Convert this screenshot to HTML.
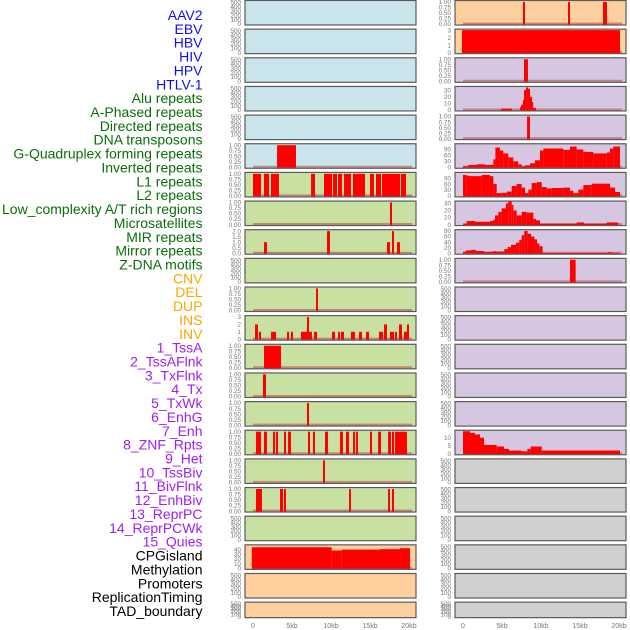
<!DOCTYPE html>
<html><head><meta charset="utf-8">
<style>
html,body{margin:0;padding:0;background:#fff;}
svg{display:block;font-family:"Liberation Sans",sans-serif;}
</style></head>
<body>
<svg id="chart" width="630" height="630" viewBox="0 0 630 630" xmlns="http://www.w3.org/2000/svg"></svg>
<script>
// ---- data ----
const rowLabels = ["AAV2","EBV","HBV","HIV","HPV","HTLV-1","Alu repeats","A-Phased repeats","Directed repeats","DNA transposons","G-Quadruplex forming repeats","Inverted repeats","L1 repeats","L2 repeats","Low_complexity A/T rich regions","Microsatellites","MIR repeats","Mirror repeats","Z-DNA motifs","CNV","DEL","DUP","INS","INV","1_TssA","2_TssAFlnk","3_TxFlnk","4_Tx","5_TxWk","6_EnhG","7_Enh","8_ZNF_Rpts","9_Het","10_TssBiv","11_BivFlnk","12_EnhBiv","13_ReprPC","14_ReprPCWk","15_Quies","CPGisland","Methylation","Promoters","ReplicationTiming","TAD_boundary"];
const labelGroups = [6,13,5,15,5];
const xTickLabels = ["0","5kb","10kb","15kb","20kb"];
const xTickValues = [0,5,10,15,20];
// tick types: "h" = 0..500, "u" = 0..1, "d2" = 0..2, "i3" = 0..3, "t40" etc
const leftTicks = ["h","h","h","h","h","u","u","u","d2","h","u","i3","u","u","u","u","u","u","h","c40","h","h"];
const rightTicks = ["u","i3","u","t30","u","t90","t90","t30","t80","u","h","h","h","h","h","t10","h","h","h","h","h","h"];
const leftMax = [520,520,520,520,520,1.02,1.02,1.02,2.04,520,1.02,3.05,1.02,1.02,1.02,1.02,1.02,1.02,520,48,520,520];
const rightMax = [1.02,3.05,1.02,34,1.02,114,114,32,81,1.02,520,520,520,520,520,14,520,520,520,520,520,520];
const leftBars = [
 [],[],[],[],[],
 [[3.08,5.51,1]],
 [[0,1.03,1],[1.41,2.05,1],[2.31,3.33,1],[7.44,7.95,1],[9.10,10.13,1],[10.26,10.77,1],[10.9,11.41,1],[11.67,12.56,1],[12.82,14.36,1],[15,15.51,1],[15.77,16.41,1],[16.54,18.85,1],[18.97,19.62,1]],
 [[17.56,17.82,1]],
 [[1.41,1.79,1],[9.49,9.87,2],[17.18,17.56,1],[17.82,18.08,2],[18.46,18.85,1]],
 [],
 [[8.08,8.33,1]],
 [[0.26,0.64,2],[0.77,1.03,1],[2.31,2.95,1],[4.36,4.62,1],[4.87,5.13,1],[6.15,6.92,1],[6.92,7.18,3],[7.18,7.56,1],[7.82,8.21,1],[10.13,10.51,1],[10.9,11.15,1],[11.28,11.67,1],[12.56,13.08,1],[13.59,13.97,1],[14.49,14.87,1],[16.15,16.67,1],[16.79,17.18,2],[17.56,18.08,1],[18.21,18.46,1],[18.72,19.1,2],[19.36,19.74,1],[19.74,20,2]],
 [[1.41,3.59,1]],
 [[1.28,1.67,1]],
 [[6.92,7.18,1]],
 [[0.38,1.03,1],[1.41,1.79,1],[2.56,2.82,1],[2.95,3.21,1],[3.97,4.23,1],[4.49,4.87,1],[7.05,7.31,1],[7.69,7.95,1],[9.23,9.62,1],[11.15,11.54,1],[11.92,12.31,1],[12.82,13.08,1],[13.21,13.46,1],[15,15.26,1],[16.03,16.41,1],[17.31,17.69,1],[17.82,18.08,1],[18.21,19.74,1]],
 [[8.97,9.23,1]],
 [[0.38,1.15,1],[3.46,3.85,1],[3.97,4.23,1],[12.31,12.56,1],[17.31,17.56,1],[17.82,18.08,1]],
 [],
 [[-0.15,10.09,45],[10.09,11.37,38],[11.37,16.28,40],[16.28,18.85,41],[18.85,20.13,43]],
 [],[]
];
const rightBars = [
 [[7.69,7.95,1],[13.46,13.72,1],[17.95,18.46,1]],
 [[-0.13,20.13,3.05]],
 [[7.82,8.33,1]],
 [[4.87,6.28,2],[7.31,7.44,4],[7.44,7.69,8],[7.69,7.82,15],[7.82,8.08,30],[8.08,8.33,34],[8.33,8.59,32],[8.59,8.85,20],[8.85,8.97,12],[8.97,9.36,3]],
 [[8.21,8.59,1]],
 [[0,0.68,5],[0.68,1.75,12],[1.75,2.82,15],[2.82,3.89,12],[3.89,4.15,40],[4.15,4.74,100],[4.74,5.17,85],[5.17,5.81,70],[5.81,6.45,50],[6.45,7.09,30],[7.09,7.52,15],[7.52,7.95,5],[7.95,8.59,10],[8.59,9.23,20],[9.23,9.87,35],[9.87,10.3,85],[10.3,12.86,95],[12.86,13.72,88],[13.72,14.57,105],[14.57,15.43,90],[15.43,16.71,78],[16.71,18.42,70],[18.42,18.85,75],[18.85,19.27,95],[19.27,20.13,105]],
 [[0,0.47,106],[0.47,0.9,102],[0.9,2.39,100],[2.39,3.46,106],[3.46,3.89,100],[3.89,4.32,60],[4.32,4.96,14],[4.96,5.6,16],[5.6,6.24,22],[6.24,6.88,50],[6.88,7.52,60],[7.52,7.95,42],[7.95,8.38,14],[8.38,8.8,32],[8.8,9.44,65],[9.44,10.09,70],[10.09,10.73,45],[10.73,11.37,38],[11.37,12.86,40],[12.86,13.72,42],[13.72,14.15,26],[14.15,14.79,14],[14.79,15.43,32],[15.43,16.5,55],[16.5,18.85,62],[18.85,19.49,42],[19.49,20.13,20]],
 [[0.04,0.47,1],[0.47,1.54,5],[1.54,3.46,4],[3.46,3.89,5],[3.89,4.1,7],[4.1,4.53,13],[4.53,4.96,18],[4.96,5.51,23],[5.51,5.81,30],[5.81,6.24,33],[6.24,6.45,28],[6.45,6.88,20],[6.88,7.52,13],[7.52,8.16,18],[8.16,9.02,17],[9.02,9.36,8],[9.36,9.87,6],[9.87,14.57,1],[14.57,15.51,3],[15.51,18.42,1],[18.42,19.91,3]],
 [[0,0.38,5],[0.38,1.03,10],[1.03,1.67,12],[1.67,2.74,8],[2.74,2.95,3],[2.95,3.81,5],[3.81,4.23,7],[4.23,5.3,6],[5.3,5.73,15],[5.73,6.15,22],[6.15,6.79,30],[6.79,7.22,38],[7.22,7.52,48],[7.52,7.86,65],[7.86,8.29,80],[8.29,8.72,70],[8.72,9.15,60],[9.15,9.49,50],[9.49,9.79,35],[9.79,10.21,25],[10.21,18.55,1],[18.55,19.19,3],[19.19,20.04,1]],
 [[13.72,14.44,1]],
 [],[],[],[],[],
 [[0,0.9,14],[0.9,1.54,13],[1.54,2.18,12],[2.18,2.69,10],[2.69,4.32,5.5],[4.32,5.26,4.5],[5.26,5.9,3],[5.9,7.52,2],[7.52,8.25,1.5],[8.25,8.68,3],[8.68,10.09,4.5],[10.09,20.13,2]],
 [],[],[],[],[],[]
];
const leftBg = ["#c9e4eb","#c9e4eb","#c9e4eb","#c9e4eb","#c9e4eb","#c9e4eb","#c8e1a2","#c8e1a2","#c8e1a2","#c8e1a2","#c8e1a2","#c8e1a2","#c8e1a2","#c8e1a2","#c8e1a2","#c8e1a2","#c8e1a2","#c8e1a2","#c8e1a2","#ffcf9e","#ffcf9e","#ffcf9e"];
const rightBg = ["#ffcf9e","#ffcf9e","#d7c6e2","#d7c6e2","#d7c6e2","#d7c6e2","#d7c6e2","#d7c6e2","#d7c6e2","#d7c6e2","#d7c6e2","#d7c6e2","#d7c6e2","#d7c6e2","#d7c6e2","#d7c6e2","#d0d0d0","#d0d0d0","#d0d0d0","#d0d0d0","#d0d0d0","#d0d0d0"];
const groupColors = ["#1010ee","#0a6e0a","#ffa500","#a020f0","#000000"];

// ---- rendering ----
const NS = "http://www.w3.org/2000/svg";
const svg = document.getElementById("chart");
function mk(tag, attrs, parent) {
  const e = document.createElementNS(NS, tag);
  for (const k in attrs) e.setAttribute(k, attrs[k]);
  (parent || svg).appendChild(e);
  return e;
}
const PX_PER_KB = 7.8;
const panels = [{x:245, w:171, x0:253, ticksRight:241, ticks:leftTicks, max:leftMax, bars:leftBars, bg:leftBg, side:"left"},
                {x:455, w:171, x0:463, ticksRight:451, ticks:rightTicks, max:rightMax, bars:rightBars, bg:rightBg, side:"right"}];
function tickSet(t) {
  if (t === "h") return [[0,"0"],[100,"100"],[200,"200"],[300,"300"],[400,"400"],[500,"500"]];
  if (t === "u") return [[0,"0.00"],[0.25,"0.25"],[0.5,"0.50"],[0.75,"0.75"],[1,"1.00"]];
  if (t === "d2") return [[0,"0.0"],[0.5,"0.5"],[1,"1.0"],[1.5,"1.5"],[2,"2.0"]];
  if (t === "i3") return [[0,"0"],[1,"1"],[2,"2"],[3,"3"]];
  if (t === "c40") return [[0,"0"],[10,"10"],[20,"20"],[30,"30"],[40,"40"]];
  if (t === "t30") return [[0,"0"],[10,"10"],[20,"20"],[30,"30"]];
  if (t === "t90") return [[0,"0"],[30,"30"],[60,"60"],[90,"90"]];
  if (t === "t80") return [[0,"0"],[20,"20"],[40,"40"],[60,"60"],[80,"80"]];
  if (t === "t10") return [[0,"0"],[5,"5"],[10,"10"]];
  return [];
}
for (let i = 0; i < 22; i++) {
  const top = i * 28.65 + 0.5;
  const h = i === 21 ? 15.5 : 24.5;
  const bottom = top + h;
  panels.forEach(p => {
    const g = mk("g", {});
    
    
    const bgr = mk("rect", {x:p.x, y:top, width:p.w, height:h, fill:p.bg[i]}, g);
    
    
    const max = p.max[i];
    const ys = v => bottom - 1 - (v / max) * (h - 2);
    const xs = kb => p.x0 + kb * PX_PER_KB;
    const bars = p.bars[i];
    if (bars.length && p.ticks[i] !== "h") {
      const bl = mk("line", {x1:xs(0), x2:xs(20.4), y1:bottom-1.5, y2:bottom-1.5, stroke:"#c0504d", "stroke-width":2, opacity:0.6}, g);
      
      
    }
    bars.forEach(b => {
      const y = Math.max(top, ys(b[2]));
      const r = mk("rect", {x:xs(b[0]), y:y, width:Math.max(1.2, xs(b[1]) - xs(b[0])), height:bottom - 0.5 - y, fill:"#ff0000"}, g);
      
      
    });
    const fr = mk("rect", {x:p.x, y:top, width:p.w, height:h, fill:"none", stroke:"#5a5a5a", "stroke-width":1.2}, g);
    
    
    tickSet(p.ticks[i]).forEach(t => {
      const tx = mk("text", {x:p.ticksRight, y:ys(t[0]) + 2.2, "text-anchor":"end", "font-size":6.3, fill:"#777"}, g);
      tx.textContent = t[1];
      
      
    });
  });
}
// x axis labels
panels.forEach(p => {
  xTickValues.forEach((v, k) => {
    const t = mk("text", {x:p.x0 + v * PX_PER_KB, y:628, "text-anchor":"middle", "font-size":7, fill:"#777"});
    t.textContent = xTickLabels[k];
    
    
  });
});
// row labels
let idx = 0;
labelGroups.forEach((n, gi) => {
  for (let j = 0; j < n; j++) {
    const t = mk("text", {x:202.5, y:15 + idx * 13.86 + 5, "text-anchor":"end", "font-size":14, fill:groupColors[gi]});
    t.textContent = rowLabels[idx];
    
    
    idx++;
  }
});
</script>
</body></html>
